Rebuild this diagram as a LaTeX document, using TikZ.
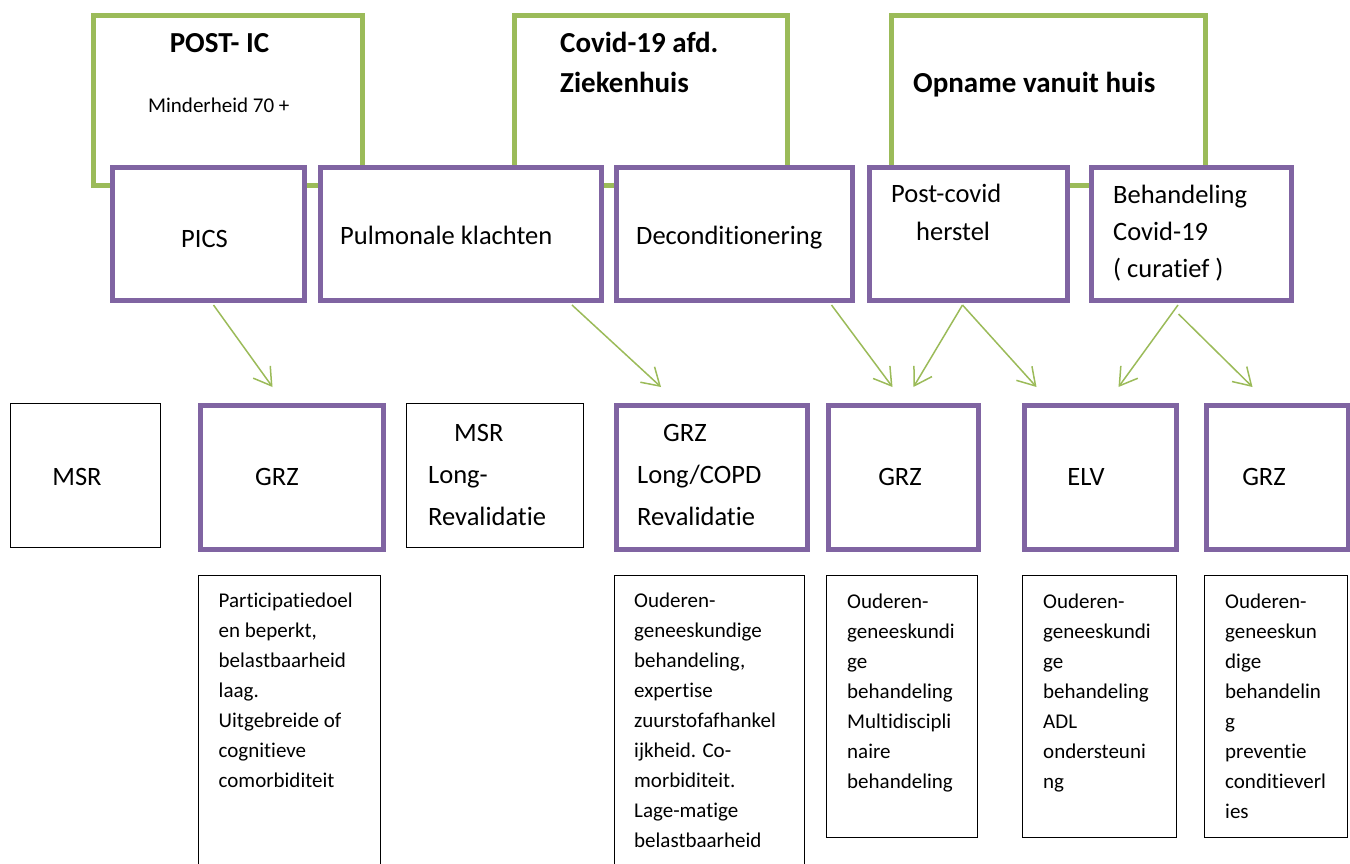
\documentclass[tikz,border=0pt]{standalone}
\usepackage{fontspec}
\setmainfont{Carlito}[Ligatures=NoCommon]
\usepackage{xcolor}
\usetikzlibrary{arrows.meta,positioning}
\definecolor{grgreen}{HTML}{9BBB59}
\definecolor{grpurple}{HTML}{8064A2}

\begin{document}
\begin{tikzpicture}[x=1pt,y=-1pt,
    groen/.style={draw=grgreen,line width=5pt,rectangle,inner sep=0pt,anchor=north west},
    paars/.style={draw=grpurple,fill=white,line width=5pt,rectangle,inner sep=0pt,anchor=north west},
    dun/.style={draw,line width=1pt,rectangle,inner sep=0pt,anchor=north west},
    pijl/.style={draw=grgreen,line width=1.5pt,-{Straight Barb[length=17pt,width=21pt]}},
    kop/.style={font=\fontsize{29}{40}\selectfont\bfseries,align=left,anchor=base west,inner sep=0pt},
    tekst/.style={font=\fontsize{26.5}{37}\selectfont,align=left,anchor=base west,inner sep=0pt},
    klein/.style={font=\fontsize{21}{30}\selectfont,align=left,anchor=base west,inner sep=0pt}]
    \clip (0,0) rectangle (1350,864);

    \node[groen,minimum width=269pt,minimum height=170pt](postic) at (91,13){};
    \node[groen,minimum width=273pt,minimum height=170pt](covid) at (512,13){};
    \node[groen,minimum width=314pt,minimum height=170pt](thuis) at (889,13){};

    \node[paars,minimum width=192pt,minimum height=133pt](pics) at (110,165){};
    \node[paars,minimum width=281pt,minimum height=133pt](pulm) at (318,165){};
    \node[paars,minimum width=236pt,minimum height=133pt](decon) at (614,165){};
    \node[paars,minimum width=198pt,minimum height=133pt](herstel) at (867,165){};
    \node[paars,minimum width=200pt,minimum height=133pt](curatief) at (1089,165){};

    \node[dun,minimum width=150pt,minimum height=144pt](msr) at (10,403){};
    \node[paars,minimum width=183pt,minimum height=144pt](grza) at (198,403){};
    \node[dun,minimum width=177pt,minimum height=144pt](msrlong) at (406,403){};
    \node[paars,minimum width=191pt,minimum height=144pt](grzb) at (614,403){};
    \node[paars,minimum width=150pt,minimum height=144pt](grzc) at (826,403){};
    \node[paars,minimum width=152pt,minimum height=144pt](elv) at (1022,403){};
    \node[paars,minimum width=142pt,minimum height=144pt](grzd) at (1204,403){};

    \node[dun,minimum width=182pt,minimum height=320pt](notesa) at (198,575){};
    \node[dun,minimum width=190pt,minimum height=320pt](notesb) at (614,575){};
    \node[dun,minimum width=151pt,minimum height=262pt](notesc) at (826,575){};
    \node[dun,minimum width=154pt,minimum height=262pt](notesd) at (1022,575){};
    \node[dun,minimum width=143pt,minimum height=262pt](notese) at (1204,575){};

    \node[kop,anchor=base](t-postic) at (219.5,53){POST- IC};
    \node[font=\fontsize{21}{30}\selectfont,anchor=base west,inner sep=0pt](t-minder) at (148,113){Minderheid 70 +};
    \node[kop](t-covid) at (560,93){Covid-19 afd.\\Ziekenhuis};
    \node[kop](t-thuis) at (913,93){Opname vanuit huis};

    \node[tekst,anchor=base](t-pics) at (204.5,247){PICS};
    \node[tekst](t-pulm) at (340,244){Pulmonale klachten};
    \node[tekst](t-decon) at (636,244){Deconditionering};
    \node[tekst](t-herstel) at (891,240){Post-covid\\\hspace*{25pt}herstel};
    \node[tekst](t-curatief) at (1113,277){Behandeling\\Covid-19\\( curatief )};

    \node[tekst,anchor=base](t-msr) at (77,485){MSR};
    \node[tekst,anchor=base](t-grza) at (277,485){GRZ};
    \node[tekst,font=\fontsize{26.5}{41.7}\selectfont](t-msrlong) at (428,525){\hspace*{26pt}MSR\\Long-\\Revalidatie};
    \node[tekst,font=\fontsize{26.5}{41.7}\selectfont](t-grzb) at (637,525){\hspace*{26pt}GRZ\\Long/COPD\\Revalidatie};
    \node[tekst,anchor=base](t-grzc) at (900,485){GRZ};
    \node[tekst,anchor=base](t-elv) at (1086,485){ELV};
    \node[tekst,anchor=base](t-grzd) at (1264,485){GRZ};

    \node[klein](t-notesa) at (218.5,787){Participatiedoel\\en beperkt,\\belastbaarheid\\laag.\\Uitgebreide of\\cognitieve\\comorbiditeit};
    \node[klein](t-notesb) at (634,847){Ouderen-\\geneeskundige\\behandeling,\\expertise\\zuurstofafhankel\\ijkheid. Co-\\morbiditeit.\\Lage-matige\\belastbaarheid};
    \node[klein](t-notesc) at (847,788){Ouderen-\\geneeskundi\\ge\\behandeling\\Multidiscipli\\naire\\behandeling};
    \node[klein](t-notesd) at (1043,788){Ouderen-\\geneeskundi\\ge\\behandeling\\ADL\\ondersteuni\\ng};
    \node[klein](t-notese) at (1225,818){Ouderen-\\geneeskun\\dige\\behandelin\\g\\preventie\\conditieverl\\ies};

    \draw[pijl] ([xshift=5pt,yshift=-2pt]pics.south) -- ([xshift=-19.5pt,yshift=16pt]grza.north);
    \draw[pijl] ([xshift=-32pt,yshift=-2pt]pulm.south east) -- ([xshift=-51pt,yshift=16pt]grzb.north);
    \draw[pijl] ([xshift=-23.5pt,yshift=-2pt]decon.south east) -- ([xshift=-11pt,yshift=16pt]grzc.north);
    \draw[pijl] ([xshift=-6pt,yshift=-2pt]herstel.south) -- ([xshift=10pt,yshift=16pt]grzc.north);
    \draw[pijl] ([xshift=-6pt,yshift=-2pt]herstel.south) -- ([xshift=-64pt,yshift=16pt]elv.north);
    \draw[pijl] ([xshift=-13.5pt,yshift=-2pt]curatief.south) -- ([xshift=18pt,yshift=16pt]elv.north);
    \draw[pijl] ([xshift=-13pt,yshift=-11pt]curatief.south) -- ([xshift=-25pt,yshift=16pt]grzd.north);
  \end{tikzpicture}
\end{document}
